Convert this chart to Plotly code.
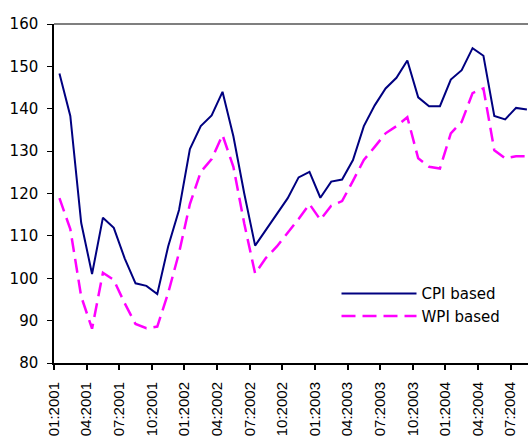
import plotly.graph_objects as go

months = [f"{m:02d}:{y}" for y in range(2001, 2005) for m in range(1, 13)][:44]

cpi = [148.3, 138.3, 113.1, 101.0, 114.3, 111.9, 104.7, 98.8, 98.2, 96.3,
       107.5, 116.1, 130.5, 135.9, 138.4, 144.0, 133.5, 120.0, 107.7, 111.4,
       115.0, 118.9, 123.8, 125.1, 119.0, 122.8, 123.3, 127.9, 135.9, 140.8,
       144.8, 147.3, 151.4, 142.7, 140.6, 140.6, 146.9, 149.1, 154.3, 152.5,
       138.3, 137.5, 140.2, 139.8]

wpi = [118.9, 111.6, 95.7, 88.1, 101.3, 99.6, 94.1, 89.2, 88.2, 88.6,
       96.5, 106.0, 117.5, 125.1, 128.1, 133.8, 126.3, 112.9, 101.1, 104.8,
       107.5, 110.7, 114.0, 117.5, 113.8, 117.1, 118.2, 123.0, 127.9, 131.0,
       134.2, 135.9, 138.0, 128.3, 126.3, 125.9, 134.2, 136.9, 143.7, 144.8,
       130.2, 128.3, 128.8, 128.8]

tick_labels = ["01:2001", "04:2001", "07:2001", "10:2001", "01:2002", "04:2002",
               "07:2002", "10:2002", "01:2003", "04:2003", "07:2003", "10:2003",
               "01:2004", "04:2004", "07:2004"]

x = list(range(len(months)))
tickvals = [i * 3 - 0.5 for i in range(len(tick_labels))]

fig = go.Figure()
fig.add_trace(go.Scatter(x=x, y=cpi, name="CPI based", mode="lines",
                         line=dict(color="#000080", width=2),
                         hovertext=months))
fig.add_trace(go.Scatter(x=x, y=wpi, name="WPI based", mode="lines",
                         line=dict(color="#FF00FF", width=2.5, dash="14px,7px"),
                         hovertext=months))

fig.update_layout(
    width=528, height=447,
    margin=dict(l=54, r=0, t=24, b=84, autoexpand=False),
    paper_bgcolor="white", plot_bgcolor="white",
    font=dict(family="DejaVu Sans", size=15, color="black"),
    showlegend=True,
    legend=dict(x=0.596, y=0.172, xanchor="left", yanchor="middle",
                bgcolor="rgba(0,0,0,0)", itemwidth=75,
                font=dict(family="DejaVu Sans", size=15)),
    xaxis=dict(range=[-0.5, 43.1], tickmode="array", tickvals=tickvals,
               ticktext=tick_labels, tickangle=-90, automargin=False,
               tickfont=dict(family="Liberation Sans", size=15),
               showgrid=False, zeroline=False, showline=True,
               linecolor="black", linewidth=2, ticks="outside", ticklen=5,
               tickcolor="black", tickwidth=1.5, ticklabelstandoff=6),
    yaxis=dict(range=[80, 160], dtick=10, showgrid=False, zeroline=False,
               showline=True, linecolor="black", linewidth=1.5, automargin=False,
               ticks="outside", ticklen=5, tickcolor="black", tickwidth=1,
               ticklabelstandoff=6,
               tickfont=dict(family="DejaVu Sans", size=15)),
)
fig.add_shape(type="line", xref="paper", yref="paper", x0=0, x1=1, y0=1, y1=1,
              line=dict(color="#555555", width=1.5))

fig.write_html("out.html", config={"displayModeBar": False},
               post_script="document.body.style.margin='0';document.body.style.padding='0';")
